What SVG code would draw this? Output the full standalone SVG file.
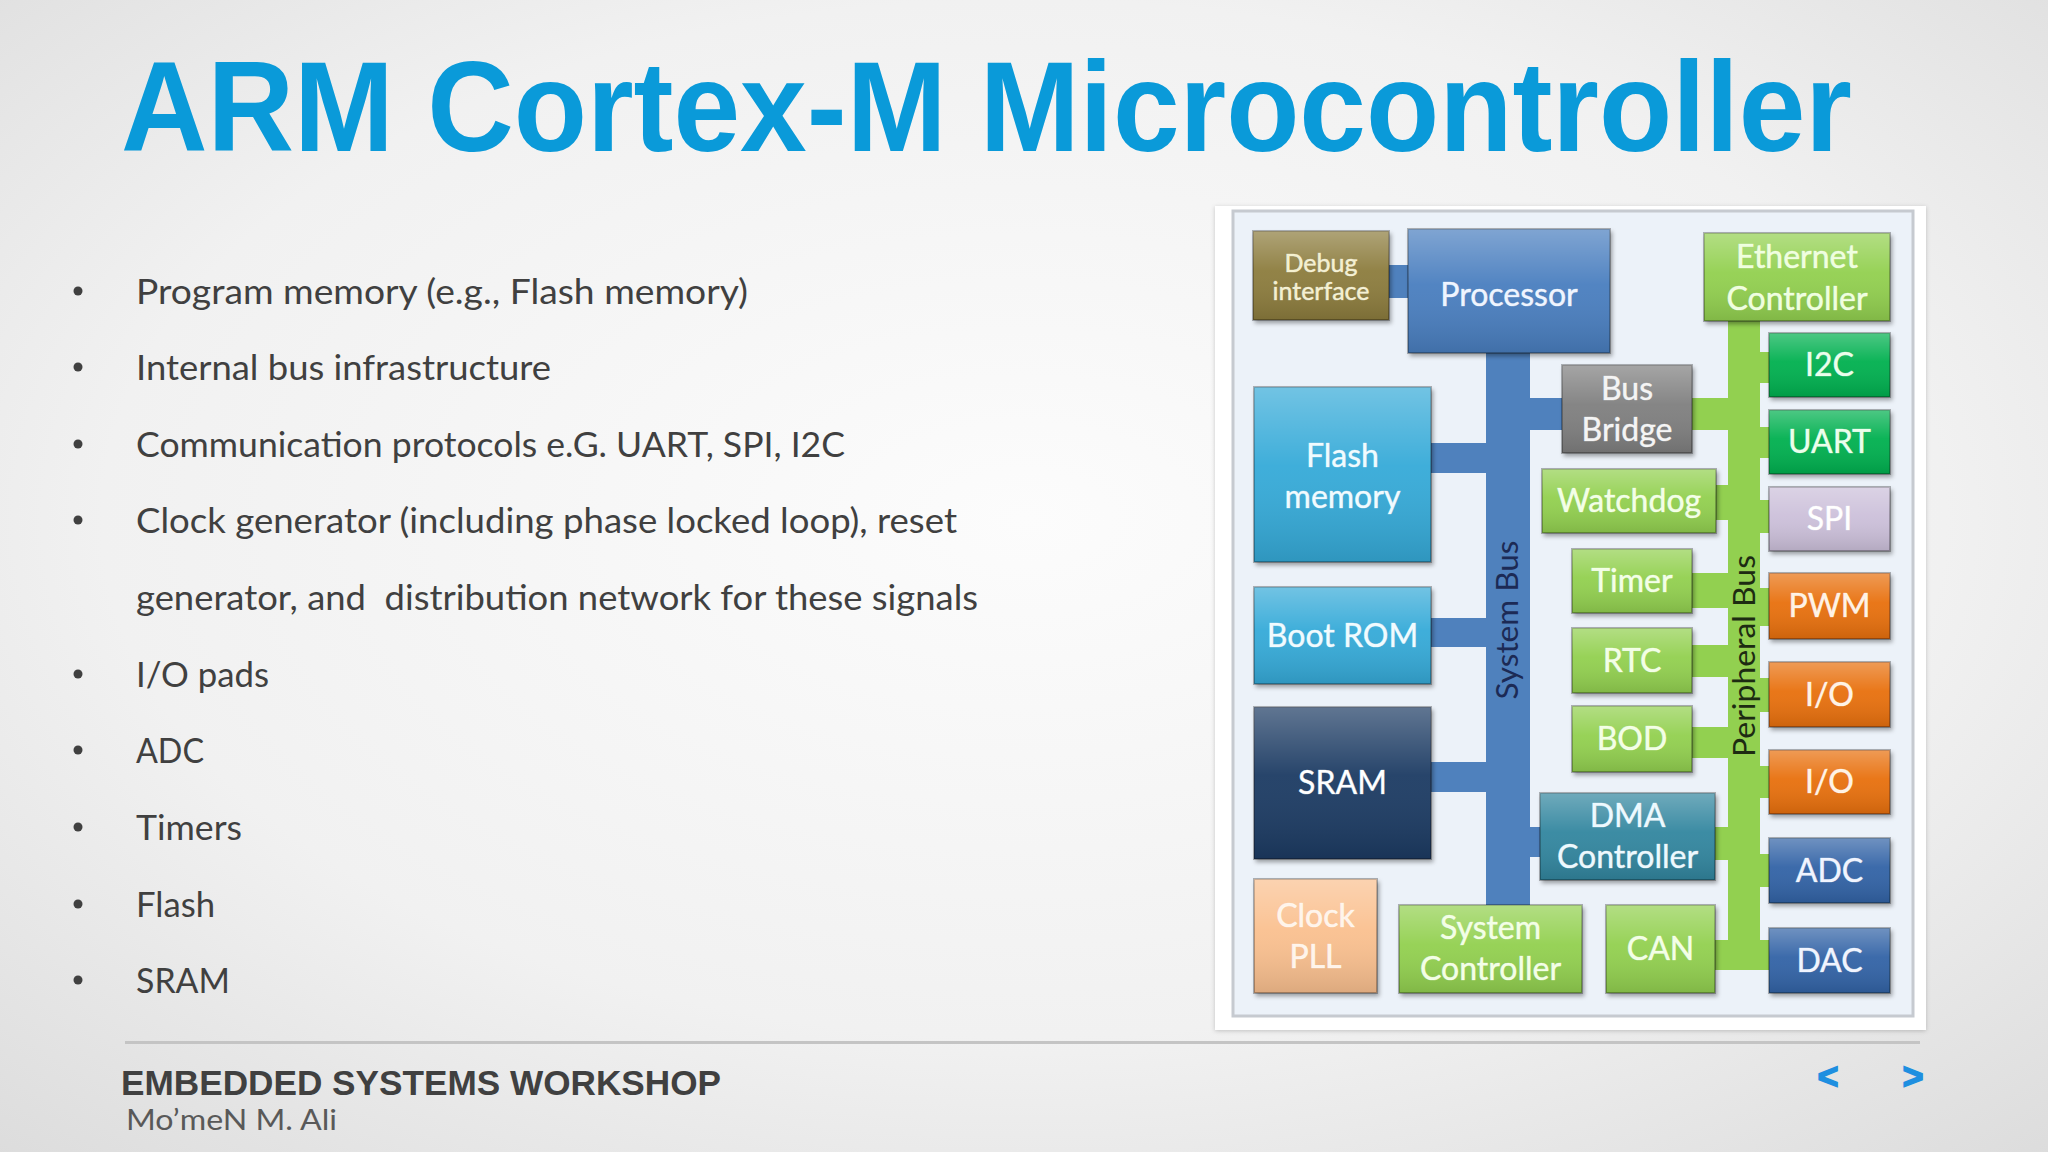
<svg xmlns="http://www.w3.org/2000/svg" width="2048" height="1152" viewBox="0 0 2048 1152">
<defs>
  <radialGradient id="bg" cx="0.5" cy="0.45" r="0.75">
    <stop offset="0" stop-color="#fcfcfc"/>
    <stop offset="0.6" stop-color="#f1f1f1"/>
    <stop offset="1" stop-color="#dcdcdc"/>
  </radialGradient>
  <linearGradient id="sheen" x1="0" y1="0" x2="0" y2="1">
    <stop offset="0" stop-color="#ffffff" stop-opacity="0.30"/>
    <stop offset="0.45" stop-color="#ffffff" stop-opacity="0.05"/>
    <stop offset="1" stop-color="#000000" stop-opacity="0.12"/>
  </linearGradient>
  <filter id="sh" x="-15%" y="-15%" width="135%" height="135%">
    <feDropShadow dx="2" dy="3" stdDeviation="2" flood-color="#000" flood-opacity="0.35"/>
  </filter>
  <filter id="fsh" x="-5%" y="-5%" width="110%" height="110%">
    <feDropShadow dx="0" dy="1" stdDeviation="2" flood-color="#000" flood-opacity="0.2"/>
  </filter>
  <style>
    .box { stroke: rgba(0,0,0,0.28); stroke-width: 2; filter: url(#sh); }
    .gl { fill: url(#sheen); }
    .lbl { font-family: Lato, "Open Sans", sans-serif; font-size: 32px; text-anchor: middle; stroke: rgba(255,255,255,0.55); stroke-width: 0.7px; }
    .sm { font-size: 25px; }
    .bullet { font-family: Lato, "Open Sans", sans-serif; font-size: 34px; fill: #404040; }
    .dot { fill: #404040; }
    .sbus { fill: #4f81bd; }
    .pbus { fill: #92d050; }
    .buslbl { font-family: Lato, "Open Sans", sans-serif; font-size: 30px; text-anchor: middle; }
    .nav { font-family: "Liberation Sans", Arial, sans-serif; font-weight: bold; font-size: 36px; fill: #1e8fe0; stroke: #1e8fe0; stroke-width: 1.5px; text-anchor: middle; }
  </style>
</defs>

<rect x="0" y="0" width="2048" height="1152" fill="url(#bg)"/>

<text x="121" y="151" font-family="'Liberation Sans', Arial, sans-serif" font-weight="bold" font-size="128" fill="#0a9ad9" textLength="1731" lengthAdjust="spacingAndGlyphs">ARM Cortex-M Microcontroller</text>

<g id="bullets">
  <circle class="dot" cx="78" cy="291" r="4.5"/>
  <text class="bullet" x="136" y="304" textLength="612" lengthAdjust="spacingAndGlyphs">Program memory (e.g., Flash memory)</text>
  <circle class="dot" cx="78" cy="367" r="4.5"/>
  <text class="bullet" x="136" y="380" textLength="415" lengthAdjust="spacingAndGlyphs">Internal bus infrastructure</text>
  <circle class="dot" cx="78" cy="444" r="4.5"/>
  <text class="bullet" x="136" y="457" textLength="709" lengthAdjust="spacingAndGlyphs">Communication protocols e.G. UART, SPI, I2C</text>
  <circle class="dot" cx="78" cy="520" r="4.5"/>
  <text class="bullet" x="136" y="533" textLength="821" lengthAdjust="spacingAndGlyphs">Clock generator (including phase locked loop), reset</text>
  <text class="bullet" x="136" y="610" textLength="842" lengthAdjust="spacingAndGlyphs" xml:space="preserve">generator, and  distribution network for these signals</text>
  <circle class="dot" cx="78" cy="674" r="4.5"/>
  <text class="bullet" x="136" y="687" textLength="133" lengthAdjust="spacingAndGlyphs">I/O pads</text>
  <circle class="dot" cx="78" cy="750" r="4.5"/>
  <text class="bullet" x="136" y="763" textLength="68" lengthAdjust="spacingAndGlyphs">ADC</text>
  <circle class="dot" cx="78" cy="827" r="4.5"/>
  <text class="bullet" x="136" y="840" textLength="106" lengthAdjust="spacingAndGlyphs">Timers</text>
  <circle class="dot" cx="78" cy="904" r="4.5"/>
  <text class="bullet" x="136" y="917" textLength="79" lengthAdjust="spacingAndGlyphs">Flash</text>
  <circle class="dot" cx="78" cy="980" r="4.5"/>
  <text class="bullet" x="136" y="993" textLength="94" lengthAdjust="spacingAndGlyphs">SRAM</text>
</g>

<g id="footer">
  <rect x="125" y="1041" width="1795" height="3" fill="#c4c4c4"/>
  <text x="121" y="1095" font-family="'Liberation Sans', Arial, sans-serif" font-weight="bold" font-size="35" fill="#404040" textLength="600" lengthAdjust="spacingAndGlyphs">EMBEDDED SYSTEMS WORKSHOP</text>
  <text x="126" y="1130" font-family="Lato, 'Open Sans', sans-serif" font-size="29" fill="#595959" textLength="211" lengthAdjust="spacingAndGlyphs">Mo’meN M. Ali</text>
  <text class="nav" x="1828" y="1089">&lt;</text>
  <text class="nav" x="1913" y="1089">&gt;</text>
</g>

<g id="frame">
  <rect x="1215" y="206" width="711" height="824" fill="#ffffff" filter="url(#fsh)"/>
  <rect x="1233" y="211" width="680" height="805" fill="#ecf2f9" stroke="#c6cad0" stroke-width="3"/>
</g>

<g id="connectors">
  <rect class="sbus" x="1486" y="350" width="44" height="558"/>
  <rect class="sbus" x="1387" y="265" width="23" height="33"/>
  <rect class="sbus" x="1429" y="443" width="59" height="30"/>
  <rect class="sbus" x="1429" y="618" width="59" height="29"/>
  <rect class="sbus" x="1429" y="762" width="59" height="30"/>
  <rect class="sbus" x="1528" y="398" width="36" height="32"/>
  <rect class="sbus" x="1528" y="827" width="14" height="30"/>

  <rect class="pbus" x="1728" y="318" width="32" height="652"/>
  <rect class="pbus" x="1690" y="398" width="40" height="32"/>
  <rect class="pbus" x="1714" y="485" width="16" height="35"/>
  <rect class="pbus" x="1690" y="573" width="40" height="35"/>
  <rect class="pbus" x="1690" y="645" width="40" height="32"/>
  <rect class="pbus" x="1690" y="727" width="40" height="31"/>
  <rect class="pbus" x="1713" y="827" width="17" height="33"/>
  <rect class="pbus" x="1713" y="940" width="17" height="30"/>
  <rect class="pbus" x="1758" y="352" width="13" height="31"/>
  <rect class="pbus" x="1758" y="427" width="13" height="31"/>
  <rect class="pbus" x="1758" y="500" width="13" height="33"/>
  <rect class="pbus" x="1758" y="588" width="13" height="38"/>
  <rect class="pbus" x="1758" y="678" width="13" height="34"/>
  <rect class="pbus" x="1758" y="766" width="13" height="32"/>
  <rect class="pbus" x="1758" y="854" width="13" height="33"/>
  <rect class="pbus" x="1758" y="940" width="13" height="30"/>

  <text class="buslbl" transform="translate(1518,620) rotate(-90)" fill="#1c2a55" textLength="159" lengthAdjust="spacingAndGlyphs">System Bus</text>
  <text class="buslbl" transform="translate(1755,656) rotate(-90)" fill="#1d2b12" textLength="202" lengthAdjust="spacingAndGlyphs">Peripheral Bus</text>
</g>

<g id="debug">
  <rect class="box" x="1253" y="231" width="136" height="89" fill="#8c7c3e"/>
  <rect class="gl" x="1253" y="231" width="136" height="89"/>
  <text class="lbl sm" x="1321" y="272" fill="#f4efc8">Debug</text>
  <text class="lbl sm" x="1321" y="300" fill="#f4efc8">interface</text>
</g>
<g id="processor">
  <rect class="box" x="1408" y="229" width="202" height="124" fill="#4a7ebf"/>
  <rect class="gl" x="1408" y="229" width="202" height="124"/>
  <text class="lbl" x="1509" y="306" fill="#eef4ff">Processor</text>
</g>
<g id="ethernet">
  <rect class="box" x="1704" y="233" width="186" height="88" fill="#92d050"/>
  <rect class="gl" x="1704" y="233" width="186" height="88"/>
  <text class="lbl" x="1797" y="268" fill="#eeffdc">Ethernet</text>
  <text class="lbl" x="1797" y="310" fill="#eeffdc">Controller</text>
</g>
<g id="i2c">
  <rect class="box" x="1769" y="333" width="121" height="64" fill="#00b050"/>
  <rect class="gl" x="1769" y="333" width="121" height="64"/>
  <text class="lbl" x="1829.5" y="376" fill="#eaffea">I2C</text>
</g>
<g id="uart">
  <rect class="box" x="1769" y="410" width="121" height="64" fill="#00b050"/>
  <rect class="gl" x="1769" y="410" width="121" height="64"/>
  <text class="lbl" x="1829.5" y="453" fill="#eaffea">UART</text>
</g>
<g id="spi">
  <rect class="box" x="1769" y="487" width="121" height="64" fill="#ccc0da"/>
  <rect class="gl" x="1769" y="487" width="121" height="64"/>
  <text class="lbl" x="1829.5" y="530" fill="#ffffff">SPI</text>
</g>
<g id="pwm">
  <rect class="box" x="1769" y="573" width="121" height="66" fill="#e8700e"/>
  <rect class="gl" x="1769" y="573" width="121" height="66"/>
  <text class="lbl" x="1829.5" y="617" fill="#fff2e4">PWM</text>
</g>
<g id="io1">
  <rect class="box" x="1769" y="662" width="121" height="65" fill="#e8700e"/>
  <rect class="gl" x="1769" y="662" width="121" height="65"/>
  <text class="lbl" x="1829.5" y="706" fill="#fff2e4">I/O</text>
</g>
<g id="io2">
  <rect class="box" x="1769" y="750" width="121" height="64" fill="#e8700e"/>
  <rect class="gl" x="1769" y="750" width="121" height="64"/>
  <text class="lbl" x="1829.5" y="793" fill="#fff2e4">I/O</text>
</g>
<g id="adc">
  <rect class="box" x="1769" y="838" width="121" height="65" fill="#3064a6"/>
  <rect class="gl" x="1769" y="838" width="121" height="65"/>
  <text class="lbl" x="1829.5" y="882" fill="#f0f4ff">ADC</text>
</g>
<g id="dac">
  <rect class="box" x="1769" y="928" width="121" height="65" fill="#3064a6"/>
  <rect class="gl" x="1769" y="928" width="121" height="65"/>
  <text class="lbl" x="1829.5" y="972" fill="#f0f4ff">DAC</text>
</g>
<g id="busbridge">
  <rect class="box" x="1562" y="365" width="130" height="88" fill="#7f7f7f"/>
  <rect class="gl" x="1562" y="365" width="130" height="88"/>
  <text class="lbl" x="1627" y="400" fill="#f4f4f4">Bus</text>
  <text class="lbl" x="1627" y="441" fill="#f4f4f4">Bridge</text>
</g>
<g id="watchdog">
  <rect class="box" x="1542" y="469" width="174" height="64" fill="#92d050"/>
  <rect class="gl" x="1542" y="469" width="174" height="64"/>
  <text class="lbl" x="1629" y="512" fill="#f2ffe4">Watchdog</text>
</g>
<g id="timer">
  <rect class="box" x="1572" y="549" width="120" height="64" fill="#92d050"/>
  <rect class="gl" x="1572" y="549" width="120" height="64"/>
  <text class="lbl" x="1632" y="592" fill="#f2ffe4">Timer</text>
</g>
<g id="rtc">
  <rect class="box" x="1572" y="628" width="120" height="65" fill="#92d050"/>
  <rect class="gl" x="1572" y="628" width="120" height="65"/>
  <text class="lbl" x="1632" y="672" fill="#f2ffe4">RTC</text>
</g>
<g id="bod">
  <rect class="box" x="1572" y="706" width="120" height="66" fill="#92d050"/>
  <rect class="gl" x="1572" y="706" width="120" height="66"/>
  <text class="lbl" x="1632" y="750" fill="#f2ffe4">BOD</text>
</g>
<g id="flash">
  <rect class="box" x="1254" y="387" width="177" height="175" fill="#34aad8"/>
  <rect class="gl" x="1254" y="387" width="177" height="175"/>
  <text class="lbl" x="1342.5" y="467" fill="#f0fbff">Flash</text>
  <text class="lbl" x="1342.5" y="508" fill="#f0fbff">memory</text>
</g>
<g id="bootrom">
  <rect class="box" x="1254" y="587" width="177" height="97" fill="#34aad8"/>
  <rect class="gl" x="1254" y="587" width="177" height="97"/>
  <text class="lbl" x="1342.5" y="647" fill="#f0fbff">Boot ROM</text>
</g>
<g id="sram">
  <rect class="box" x="1254" y="707" width="177" height="152" fill="#1f3a63"/>
  <rect class="gl" x="1254" y="707" width="177" height="152"/>
  <text class="lbl" x="1342.5" y="794" fill="#ffffff">SRAM</text>
</g>
<g id="dma">
  <rect class="box" x="1540" y="793" width="175" height="87" fill="#31869f"/>
  <rect class="gl" x="1540" y="793" width="175" height="87"/>
  <text class="lbl" x="1627.5" y="827" fill="#ecf9ff">DMA</text>
  <text class="lbl" x="1627.5" y="868" fill="#ecf9ff">Controller</text>
</g>
<g id="clockpll">
  <rect class="box" x="1254" y="879" width="123" height="114" fill="#fac08f"/>
  <rect class="gl" x="1254" y="879" width="123" height="114"/>
  <text class="lbl" x="1315.5" y="927" fill="#fff4ea">Clock</text>
  <text class="lbl" x="1315.5" y="968" fill="#fff4ea">PLL</text>
</g>
<g id="sysctrl">
  <rect class="box" x="1399" y="905" width="183" height="88" fill="#92d050"/>
  <rect class="gl" x="1399" y="905" width="183" height="88"/>
  <text class="lbl" x="1490.5" y="939" fill="#f2ffe4">System</text>
  <text class="lbl" x="1490.5" y="980" fill="#f2ffe4">Controller</text>
</g>
<g id="can">
  <rect class="box" x="1606" y="905" width="109" height="88" fill="#92d050"/>
  <rect class="gl" x="1606" y="905" width="109" height="88"/>
  <text class="lbl" x="1660.5" y="960" fill="#f2ffe4">CAN</text>
</g>
</svg>
